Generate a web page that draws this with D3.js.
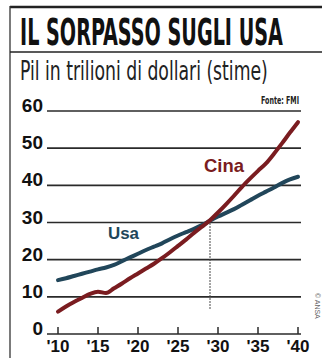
<!DOCTYPE html>
<html>
<head>
<meta charset="utf-8">
<script src="https://cdn.jsdelivr.net/npm/d3@7"></script>
<style>
  body { margin: 0; background: #fff; }
  svg { display: block; }
</style>
</head>
<body>
<svg id="chart" width="322" height="358"></svg>
<script>
// dati (stime FMI)
var years = d3.range(2010, 2041);
var usa = [14.5, 15.0, 15.6, 16.2, 16.8, 17.4, 17.9, 18.6, 19.6, 20.6,
           21.6, 22.6, 23.5, 24.4, 25.5, 26.5, 27.4, 28.3, 29.3, 30.5,
           31.6, 32.6, 33.6, 34.8, 36.0, 37.2, 38.3, 39.4, 40.6, 41.6, 42.3];
var cina = [6.0, 7.4, 8.6, 9.7, 10.8, 11.4, 11.0, 12.3, 13.6, 15.0,
            16.3, 17.6, 18.9, 20.4, 22.0, 23.7, 25.4, 27.2, 28.9, 30.6,
            32.7, 34.9, 37.2, 39.6, 41.8, 43.9, 45.9, 48.5, 51.3, 54.2, 57.0];
var xTicks = [2010, 2015, 2020, 2025, 2030, 2035, 2040];
var yTicks = [0, 10, 20, 30, 40, 50, 60];
var sorpasso = {year: 2029, top: 30.6, bottom: 6.7};

var svg = d3.select("#chart");

var x = d3.scaleLinear().domain([2010, 2040]).range([58, 298]);
var y = d3.scaleLinear().domain([0, 60]).range([334, 111]);
var gridX0 = 47, gridX1 = 301;

// cornice
svg.append("line").attr("x1", 10).attr("x2", 322).attr("y1", 7).attr("y2", 7)
  .attr("stroke", "#222").attr("stroke-width", 2.5);
svg.append("line").attr("x1", 10).attr("x2", 10).attr("y1", 6).attr("y2", 358)
  .attr("stroke", "#333").attr("stroke-width", 1.3);
svg.append("line").attr("x1", 10).attr("x2", 322).attr("y1", 52).attr("y2", 52)
  .attr("stroke", "#222").attr("stroke-width", 1.5);

// testo stretto: misura e comprime in orizzontale fino alla larghezza voluta
function fitText(str, x0, y0, w, size, weight, color) {
  var t = svg.append("text")
    .style("font-family", "'Liberation Sans Narrow', 'DejaVu Sans Condensed', sans-serif")
    .style("font-weight", weight).style("font-size", size + "px")
    .attr("fill", color)
    .text(str);
  var natural = t.node().getComputedTextLength();
  t.attr("transform", "translate(" + x0 + "," + y0 + ") scale(" + (w / natural) + ",1)");
  return t;
}

fitText("IL SORPASSO SUGLI USA", 20, 45, 263, 37, "bold", "#111");
fitText("Pil in trilioni di dollari (stime)", 20, 80, 248, 26, "normal", "#222");

svg.append("text")
  .attr("x", 299).attr("y", 104).attr("text-anchor", "end")
  .attr("textLength", 38).attr("lengthAdjust", "spacingAndGlyphs")
  .style("font-family", "'Liberation Sans Narrow', 'DejaVu Sans Condensed', sans-serif")
  .style("font-weight", "bold").style("font-size", "11px")
  .attr("fill", "#222")
  .text("Fonte: FMI");

// griglia orizzontale ed etichette y
yTicks.forEach(function(d) {
  svg.append("line")
    .attr("x1", gridX0).attr("x2", gridX1)
    .attr("y1", y(d)).attr("y2", y(d))
    .attr("stroke", "#2a2a2a").attr("stroke-width", 1.6);
  svg.append("text")
    .attr("x", gridX0 - 4).attr("y", y(d) + 1)
    .attr("text-anchor", "end")
    .attr("fill", "#111")
    .style("font-family", "'Liberation Sans', Arial, sans-serif")
    .style("font-weight", "bold").style("font-size", "19px")
    .text(d);
});

// tacche ed etichette x
xTicks.forEach(function(d) {
  svg.append("line")
    .attr("x1", x(d)).attr("x2", x(d))
    .attr("y1", y(0)).attr("y2", y(0) - 7)
    .attr("stroke", "#2a2a2a").attr("stroke-width", 1.5);
  svg.append("text")
    .attr("x", x(d)).attr("y", y(0) + 18)
    .attr("text-anchor", "middle")
    .attr("fill", "#111")
    .style("font-family", "'Liberation Sans', Arial, sans-serif")
    .style("font-weight", "bold").style("font-size", "17px")
    .text("'" + String(d).slice(2));
});

// linea tratteggiata del sorpasso
svg.append("line")
  .attr("x1", x(sorpasso.year)).attr("x2", x(sorpasso.year))
  .attr("y1", y(sorpasso.top)).attr("y2", y(sorpasso.bottom))
  .attr("stroke", "#444").attr("stroke-width", 1.3)
  .attr("stroke-dasharray", "1.5,1.5");

var line = d3.line()
  .x(function(d, i) { return x(years[i]); })
  .y(function(d) { return y(d); })
  .curve(d3.curveMonotoneX);

svg.append("path").datum(usa)
  .attr("d", line)
  .attr("fill", "none").attr("stroke", "#21465a")
  .attr("stroke-width", 4).attr("stroke-linecap", "round").attr("stroke-linejoin", "round");

svg.append("path").datum(cina)
  .attr("d", line)
  .attr("fill", "none").attr("stroke", "#7a1c20")
  .attr("stroke-width", 4).attr("stroke-linecap", "round").attr("stroke-linejoin", "round");

svg.append("text")
  .attr("x", 204).attr("y", 172)
  .attr("textLength", 40).attr("lengthAdjust", "spacingAndGlyphs")
  .style("font-family", "'Liberation Sans', Arial, sans-serif")
  .style("font-weight", "bold").style("font-size", "19px")
  .attr("fill", "#7a1c20")
  .text("Cina");

svg.append("text")
  .attr("x", 108).attr("y", 239)
  .attr("textLength", 31).attr("lengthAdjust", "spacingAndGlyphs")
  .style("font-family", "'Liberation Sans', Arial, sans-serif")
  .style("font-weight", "bold").style("font-size", "17px")
  .attr("fill", "#21465a")
  .text("Usa");

svg.append("text")
  .attr("transform", "translate(315,293) rotate(90)")
  .style("font-family", "'Liberation Sans', Arial, sans-serif")
  .style("font-size", "7px")
  .attr("fill", "#666")
  .text("© ANSA");
</script>
</body>
</html>
